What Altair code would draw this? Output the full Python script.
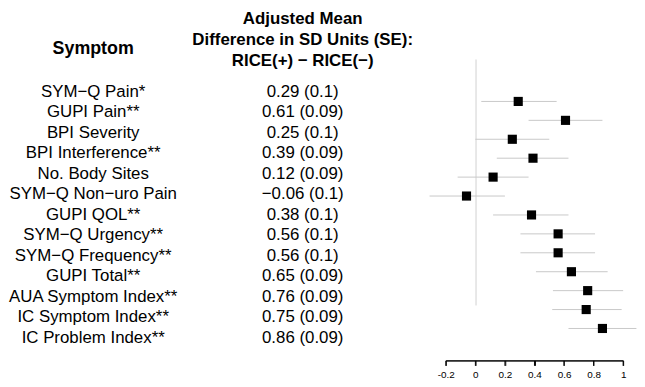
import altair as alt
import pandas as pd

symptoms = ["SYM−Q Pain*", "GUPI Pain**", "BPI Severity", "BPI Interference**",
            "No. Body Sites", "SYM−Q Non−uro Pain", "GUPI QOL**", "SYM−Q Urgency**",
            "SYM−Q Frequency**", "GUPI Total**", "AUA Symptom Index**",
            "IC Symptom Index**", "IC Problem Index**"]
estimates = [0.29, 0.61, 0.25, 0.39, 0.12, -0.06, 0.38, 0.56, 0.56, 0.65, 0.76, 0.75, 0.86]
std_errors = ["0.1", "0.09", "0.1", "0.09", "0.09", "0.1", "0.1", "0.1", "0.1",
              "0.09", "0.09", "0.09", "0.09"]
ci_lower = [0.04, 0.36, 0.0, 0.145, -0.12, -0.31, 0.12, 0.305, 0.305, 0.41, 0.525, 0.52, 0.63]
ci_upper = [0.55, 0.86, 0.50, 0.63, 0.36, 0.20, 0.63, 0.81, 0.81, 0.895, 1.0, 0.99, 1.09]
x_ticks = [-0.2, 0, 0.2, 0.4, 0.6, 0.8, 1]

value_labels = [f"{e:g} ({s})".replace("-", "−") for e, s in zip(estimates, std_errors)]

df = pd.DataFrame({
    "symptom": symptoms,
    "est": estimates,
    "lo": ci_lower,
    "hi": ci_upper,
    "vlabel": value_labels,
})
ticks_df = pd.DataFrame({"t": x_ticks})
domain_df = pd.DataFrame({"a": [x_ticks[0]], "b": [x_ticks[-1]]})

FONT = "Liberation Sans"
H = 319
AX_OFF = 4

y_enc = alt.Y("symptom:N", sort=symptoms, axis=None,
              scale=alt.Scale(range=[52, 300.3], padding=0))

col1 = alt.Chart(df).mark_text(fontSize=17, font=FONT, color="black").encode(
    y=y_enc, text="symptom:N"
).properties(
    width=134, height=H,
    title=alt.TitleParams("Symptom", font=FONT, fontSize=18, fontWeight="bold",
                          color="black", anchor="middle", offset=-18)
)

col2 = alt.Chart(df).mark_text(fontSize=17, font=FONT, color="black").encode(
    y=y_enc, text="vlabel:N"
).properties(
    width=289, height=H,
    title=alt.TitleParams(["Adjusted Mean", "Difference in SD Units (SE):", "RICE(+) − RICE(−)"],
                          font=FONT, fontSize=17, fontWeight="bold", color="black",
                          anchor="middle", offset=-30, lineHeight=21.5)
)

xscale = alt.Scale(domain=[-0.2, 1], nice=False, zero=False)
xaxis = alt.Axis(values=x_ticks, title=None, domain=True, domainColor="#000000",
                 ticks=True, tickColor="#000000", tickSize=5, tickWidth=1,
                 labelColor="black", labelFontSize=10, labelFont=FONT,
                 offset=AX_OFF, labelPadding=4, domainWidth=1,
                 grid=True, gridColor="#d0d0d0", gridWidth=1,
                 gridOpacity=alt.condition("datum.value == 0", alt.value(1), alt.value(0)),
                 labelOverlap=False, labelBound=False, labelFlush=False,
                 labelExpr="replace(format(datum.value, '~g'), '−', '-')")

ci = alt.Chart(df).mark_rule(color="#c8c8c8", strokeWidth=1).encode(
    x=alt.X("lo:Q", scale=xscale, axis=xaxis),
    x2="hi:Q",
    y=y_enc,
)

pts = alt.Chart(df).mark_square(size=85, color="black", opacity=1, filled=True).encode(
    x=alt.X("est:Q", scale=xscale, axis=xaxis),
    y=y_enc,
)

axis_line = alt.Chart(domain_df).mark_rule(color="black", strokeWidth=1).encode(
    x=alt.X("a:Q", scale=xscale, axis=xaxis),
    x2="b:Q",
    y=alt.value(H + AX_OFF + 0.5),
)

axis_ticks = alt.Chart(ticks_df).mark_rule(color="black", strokeWidth=1).encode(
    x=alt.X("t:Q", scale=xscale, axis=xaxis),
    y=alt.value(H + AX_OFF + 0.5),
    y2=alt.value(H + AX_OFF + 5.5),
)

forest = alt.layer(ci, pts, axis_line, axis_ticks).properties(width=179, height=H)

chart = alt.hconcat(col1, col2, forest, spacing=0, bounds="flush").properties(
    padding=0
).configure_view(stroke=None)

chart.save("out.html", embed_options={"renderer": "svg", "actions": False})
